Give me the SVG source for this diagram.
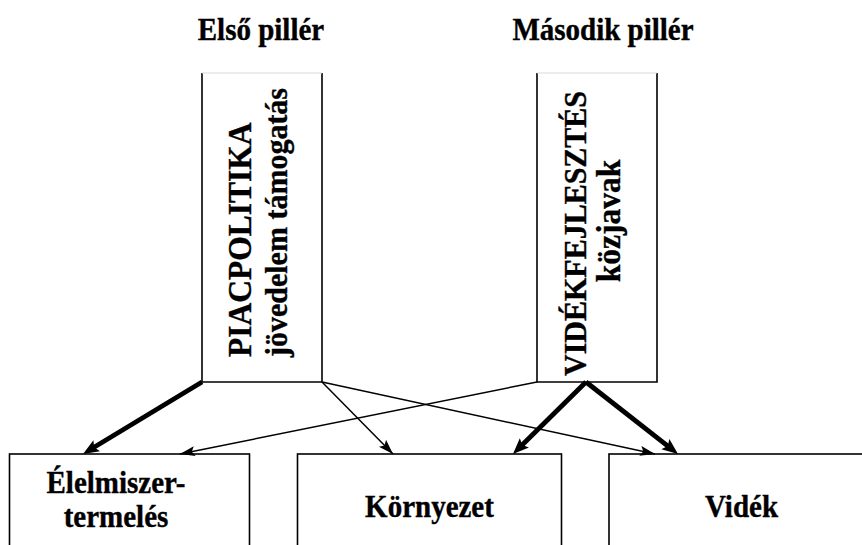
<svg xmlns="http://www.w3.org/2000/svg" width="862" height="545" viewBox="0 0 862 545">
<style>
  .box { fill: #ffffff; stroke: #000000; stroke-width: 1.6; }
  .cap { stroke: #d9d9d9; stroke-width: 1.2; }
  .t { font-family: "Liberation Serif", "Times New Roman", serif; font-weight: bold; fill: #000000; stroke: #000000; stroke-width: 0.35; }
  .title { font-size: 29px; text-anchor: middle; }
  .lbl { font-size: 29px; text-anchor: middle; }
  .vt { font-size: 30px; }
  .vt1 { font-size: 31.5px; }
  .thin { stroke: #000000; stroke-width: 1.5; fill: none; marker-end: url(#ah); }
  .thick { stroke: #000000; stroke-width: 4.8; fill: none; marker-end: url(#ahb); }
</style>
<defs>
  <marker id="ah" markerUnits="userSpaceOnUse" markerWidth="16" markerHeight="12" refX="15" refY="5" orient="auto">
    <path d="M0,0 L15,5 L0,10 L3,5 z" fill="#000000"/>
  </marker>
  <marker id="ahb" markerUnits="userSpaceOnUse" markerWidth="18" markerHeight="14" refX="6" refY="6.5" orient="auto">
    <path d="M0,0 L16,6.5 L0,13 L3,6.5 z" fill="#000000"/>
  </marker>
</defs>

<g id="title-first"><text class="t title" transform="translate(261,40) scale(1,1.08)">Első pillér</text></g>
<g id="title-second"><text class="t title" transform="translate(603,40) scale(1,1.08)">Második pillér</text></g>

<g id="pillar-market">
  <rect x="202" y="73" width="120" height="309" fill="#ffffff"/>
  <path d="M202,73 V382 H322 V73" fill="none" stroke="#000" stroke-width="1.6"/>
  <line class="cap" x1="202" y1="73" x2="322" y2="73"/>
  <text class="t vt1" transform="translate(251,357) rotate(-90) scale(1,1.06)">PIACPOLITIKA</text>
  <text class="t vt" transform="translate(287,357) rotate(-90) scale(1,1.06)">jövedelem támogatás</text>
</g>

<g id="pillar-rural">
  <rect x="537" y="73" width="120" height="309" fill="#ffffff"/>
  <path d="M537,73 V382 H657 V73" fill="none" stroke="#000" stroke-width="1.6"/>
  <line class="cap" x1="537" y1="73" x2="657" y2="73"/>
  <text class="t vt" transform="translate(586,376) rotate(-90) scale(1,1.06)">VIDÉKFEJLESZTÉS</text>
  <text class="t vt1" text-anchor="middle" transform="translate(620,221) rotate(-90) scale(1,1.06)">közjavak</text>
</g>

<g id="food">
  <rect class="box" x="9.5" y="454" width="240" height="110"/>
  <text class="t lbl" transform="translate(116,493) scale(1,1.08)">Élelmiszer-</text>
  <text class="t lbl" transform="translate(116,527) scale(1,1.08)">termelés</text>
</g>
<g id="environment">
  <rect class="box" x="297.5" y="454" width="264" height="110"/>
  <text class="t lbl" transform="translate(429.5,517) scale(1,1.08)">Környezet</text>
</g>
<g id="countryside">
  <rect class="box" x="609" y="454" width="270" height="110"/>
  <text class="t lbl" transform="translate(741.5,517) scale(1,1.08)">Vidék</text>
</g>

<g id="connectors">
  <line class="thick" x1="202" y1="382" x2="91.6" y2="448.8"/>
  <line class="thin" x1="322" y1="382" x2="393" y2="454"/>
  <line class="thin" x1="322" y1="382" x2="655" y2="454"/>
  <line class="thin" x1="537" y1="382" x2="180" y2="454"/>
  <line class="thick" x1="586" y1="382" x2="520.1" y2="447"/>
  <line class="thick" x1="586" y1="382" x2="670.1" y2="447.8"/>
</g>
</svg>
